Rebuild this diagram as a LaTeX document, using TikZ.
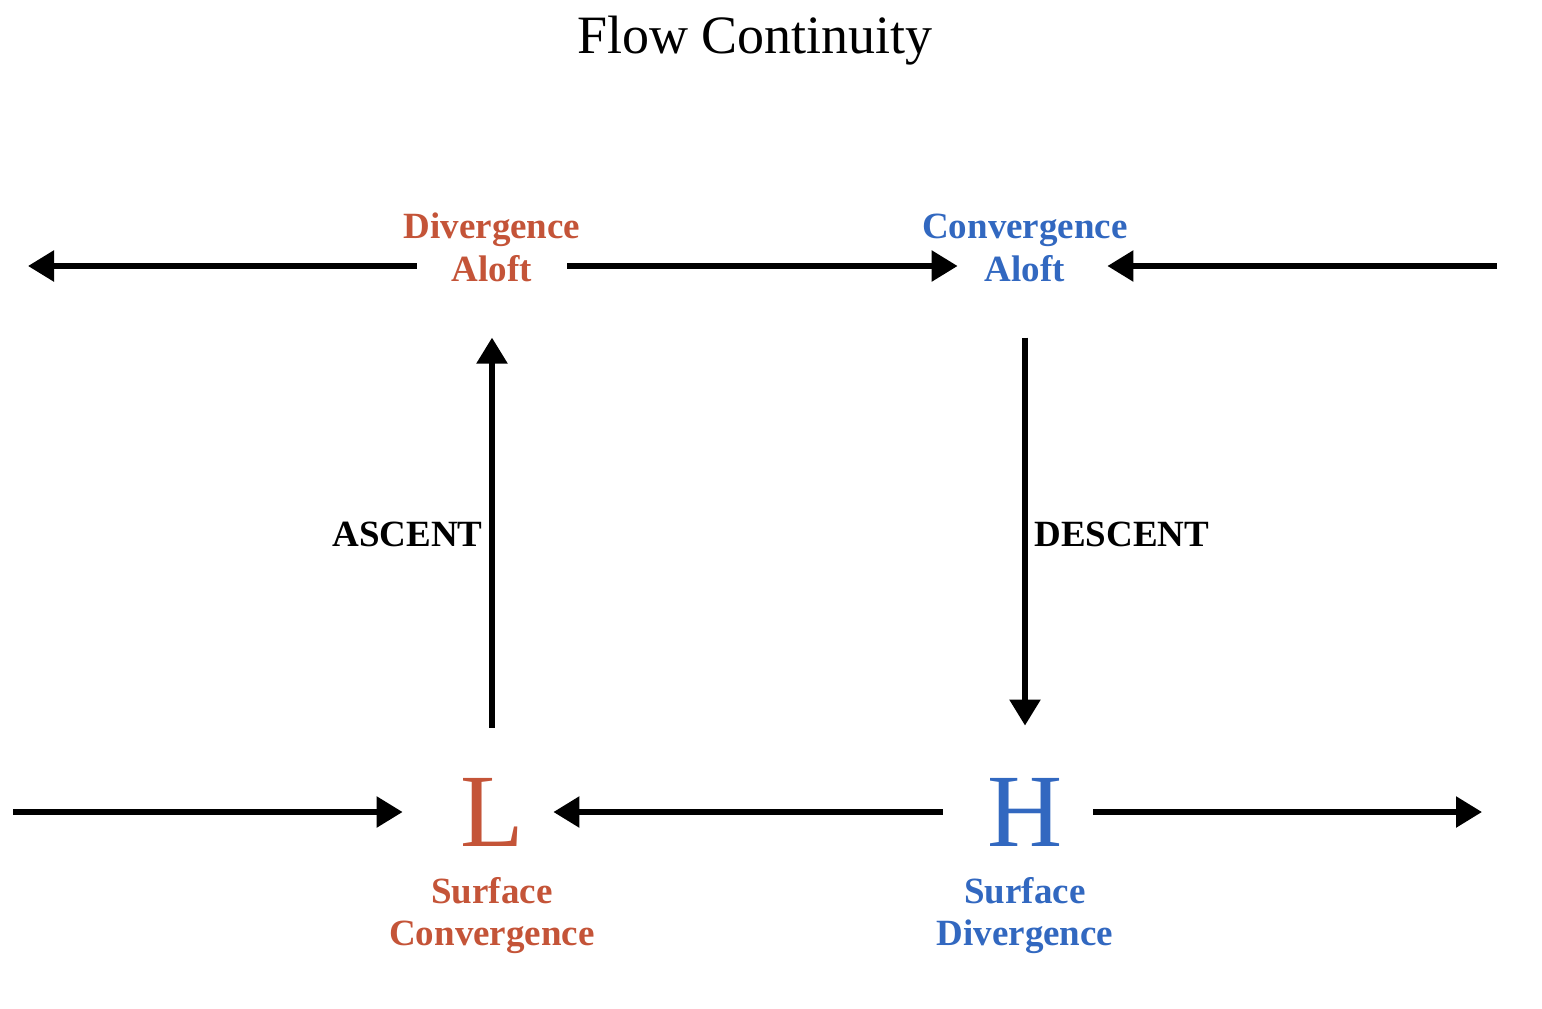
\documentclass[tikz,border=0pt]{standalone}
\usepackage{fontspec}
\setmainfont{Liberation Serif}
\usetikzlibrary{arrows.meta}

\definecolor{lowred}{RGB}{196,84,56}
\definecolor{highblue}{RGB}{50,104,192}

\def \flowWidth {2.8pt}

\tikzset{
   flow/.style={line width=\flowWidth, -{Triangle[length=13pt, width=15pt]}},
   lbl/.style={font=\fontsize{18.5}{21}\selectfont\bfseries, align=center},
   center/.style={minimum width=75pt, inner sep=0pt},
   pressure/.style={center, font=\fontsize{52}{52}\selectfont}
}

\begin{document}
\begin{tikzpicture}[x=0.5pt, y=-0.5pt]
      \useasboundingbox (0, 0) rectangle (1542, 1008);
      \node[font=\fontsize{27}{30}\selectfont] (title) at (755, 41) {Flow Continuity};

      % aloft
      \node[lbl, text=lowred] (divT) at (492, 230) {Divergence};
      \node[lbl, center, text=lowred] (divA) at (492, 269) {Aloft};
      \node[lbl, text=highblue] (convT) at (1025, 230) {Convergence};
      \node[lbl, center, text=highblue] (convA) at (1025, 269) {Aloft};
      \coordinate (topW) at (28, 266);
      \coordinate (topE) at (1497, 266);
      \draw[flow] (divA.west |- topW) -- (topW);
      \draw[flow, shorten >=-4pt] (divA.east |- topW) -- (convA.west |- topW);
      \draw[flow, shorten >=3.5pt] (topE) -- (convA.east |- topE);

      % surface
      \node[pressure, text=lowred] (L) at (492, 812) {L};
      \node[pressure, text=highblue] (H) at (1025, 812) {H};
      \node[lbl, text=lowred] (surfL) at (492, 916) {Surface\\Convergence};
      \node[lbl, text=highblue] (surfH) at (1025, 916) {Surface\\Divergence};
      \coordinate (botW) at (13, 812);
      \coordinate (botE) at (1482, 812);
      \draw[flow, shorten >=7pt] (botW) -- (L.west);
      \draw[flow, shorten <=3.5pt, shorten >=-7pt] (H.west) -- (L.east);
      \draw[flow, shorten <=-3.5pt] (H.east) -- (botE);

      % vertical motion
      \draw[flow, shorten <=25pt, shorten >=27.5pt] (L) -- node[lbl, left, yshift=-2pt] (asc) {ASCENT} (divA);
      \draw[flow, shorten <=27.5pt, shorten >=26pt] (convA) -- node[lbl, right, yshift=-2pt] (desc) {DESCENT} (H);
   \end{tikzpicture}
\end{document}
